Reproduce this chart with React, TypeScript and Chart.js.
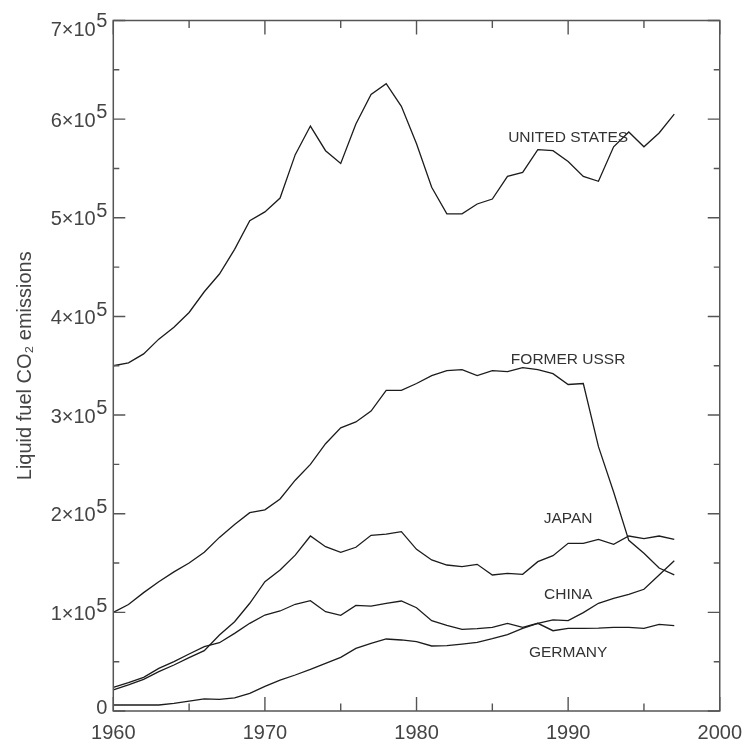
import React, { useEffect, useRef } from 'react';
import { Chart, registerables } from 'chart.js';

Chart.register(...registerables);

const years = [
  1960, 1961, 1962, 1963, 1964, 1965, 1966, 1967, 1968, 1969,
  1970, 1971, 1972, 1973, 1974, 1975, 1976, 1977, 1978, 1979,
  1980, 1981, 1982, 1983, 1984, 1985, 1986, 1987, 1988, 1989,
  1990, 1991, 1992, 1993, 1994, 1995, 1996, 1997,
];

const unitedStates = [
  350000, 353000, 362000, 377000, 389000, 404000, 425000, 443000, 468000, 497000,
  506000, 520000, 564000, 593000, 568000, 555000, 595000, 625000, 636000, 613000,
  575000, 531000, 504000, 504000, 514000, 519000, 542000, 546000, 569000, 568000,
  557000, 542000, 537000, 572000, 587000, 572000, 586000, 605000,
];

const formerUSSR = [
  100000, 108000, 120000, 131000, 141000, 150000, 161000, 176000, 189000, 201000,
  204000, 215000, 234000, 250000, 271000, 287000, 293000, 304000, 325000, 325000,
  332000, 340000, 345000, 346000, 340000, 345000, 344000, 348000, 346000, 342000,
  331000, 332000, 268000, 222000, 173000, 160000, 145000, 138000,
];

const japan = [
  21300, 26400, 32100, 39900, 46600, 54100, 61200, 77000, 90500, 109200,
  131100, 143000, 158000, 177400, 166600, 160900, 166000, 178100, 179400, 181800,
  163900, 153100, 148000, 146300, 148700, 137900, 139600, 138600, 151400, 157500,
  170000, 170000, 174000, 169000, 177400, 174700, 177400, 174100,
];

const germany = [
  24000, 28700, 34100, 43200, 50000, 57800, 65200, 69200, 78700, 88900,
  97300, 101400, 108200, 111800, 100700, 97000, 107100, 106400, 109200, 111500,
  104700, 91600, 86900, 82800, 83500, 84800, 88900, 84800, 88900, 81400,
  83800, 83800, 84100, 84800, 84800, 83800, 87900, 86500,
];

const china = [
  6100, 6100, 6100, 6100, 7800, 10100, 12200, 11800, 13200, 17900,
  25000, 31400, 36500, 42200, 48300, 54400, 63500, 68600, 73000, 72000,
  70300, 65900, 66200, 67900, 69600, 73300, 77500, 83800, 88900, 92300,
  91600, 99700, 109200, 114200, 118300, 123400, 137900, 152400,
];

const seriesLabels = ['UNITED STATES', 'FORMER USSR', 'JAPAN', 'CHINA', 'GERMANY'];
const seriesLabelYear = [1990, 1990, 1990, 1990, 1990];
const seriesLabelValue = [581000, 356000, 195000, 118000, 59000];

const xMajorTicks = [1960, 1970, 1980, 1990, 2000];
const xMinorTicks = [1965, 1975, 1985, 1995];
const yMajorTicks = [0, 100000, 200000, 300000, 400000, 500000, 600000, 700000];
const yMinorTicks = [50000, 150000, 250000, 350000, 450000, 550000, 650000];
const yTickBase = ['0', '1×10', '2×10', '3×10', '4×10', '5×10', '6×10', '7×10'];
const yTickExp = ['', '5', '5', '5', '5', '5', '5', '5'];

const yTitle = 'Liquid fuel CO₂ emissions';

const AXIS_COLOR = '#555555';
const TEXT_COLOR = '#444444';
const LINE_COLOR = '#1c1c1c';
const FONT = '"Liberation Sans", Arial, Helvetica, sans-serif';

const decorPlugin = {
  id: 'decor',
  afterDraw(chart: any) {
    const { ctx, chartArea: a, scales } = chart;
    const x = scales.x;
    const y = scales.y;
    ctx.save();
    ctx.strokeStyle = AXIS_COLOR;
    ctx.lineWidth = 1.5;
    ctx.strokeRect(a.left, a.top, a.right - a.left, a.bottom - a.top);

    ctx.lineWidth = 1.4;
    ctx.beginPath();
    const xt = (v: number, len: number) => {
      const px = x.getPixelForValue(v);
      ctx.moveTo(px, a.bottom);
      ctx.lineTo(px, a.bottom - len);
      ctx.moveTo(px, a.top);
      ctx.lineTo(px, a.top + len);
    };
    xMajorTicks.forEach((v) => xt(v, 14));
    xMinorTicks.forEach((v) => xt(v, 7.5));
    const yt = (v: number, len: number) => {
      const py = y.getPixelForValue(v);
      ctx.moveTo(a.left, py);
      ctx.lineTo(a.left + len, py);
      ctx.moveTo(a.right, py);
      ctx.lineTo(a.right - len, py);
    };
    yMajorTicks.forEach((v) => yt(v, 12));
    yMinorTicks.forEach((v) => yt(v, 6));
    ctx.stroke();

    // y tick labels with exponent
    ctx.fillStyle = TEXT_COLOR;
    ctx.font = `20px ${FONT}`;
    ctx.textBaseline = 'alphabetic';
    ctx.textAlign = 'right';
    const rightEdge = a.left - 6;
    yMajorTicks.forEach((v, i) => {
      let py = y.getPixelForValue(v);
      if (i === yMajorTicks.length - 1) py += 7.5;
      if (i === 0) py -= 5;
      const exp = yTickExp[i];
      let baseRight = rightEdge;
      if (exp) {
        const w = ctx.measureText(exp).width;
        ctx.fillText(exp, rightEdge, py - 8 + 7.2);
        baseRight = rightEdge - w - 0.5;
      }
      ctx.fillText(yTickBase[i], baseRight, py + 0.5 + 7.2);
    });

    // series labels
    ctx.font = `15.5px ${FONT}`;
    ctx.fillStyle = '#333333';
    ctx.textAlign = 'center';
    ctx.textBaseline = 'middle';
    seriesLabels.forEach((t, i) => {
      const px = x.getPixelForValue(seriesLabelYear[i]);
      const py = y.getPixelForValue(seriesLabelValue[i]);
      ctx.fillText(t, px, py);
    });
    ctx.restore();
  },
};

export default function App() {
  const ref = useRef<HTMLCanvasElement | null>(null);
  useEffect(() => {
    if (!ref.current) return;
    const mk = (data: number[]) => ({
      data: years.map((yr, i) => ({ x: yr, y: data[i] })),
      borderColor: LINE_COLOR,
      borderWidth: 1.3,
      pointRadius: 0,
      tension: 0,
      fill: false,
    });
    const chart = new Chart(ref.current, {
      type: 'line',
      data: {
        datasets: [
          { label: 'United States', ...mk(unitedStates) },
          { label: 'Former USSR', ...mk(formerUSSR) },
          { label: 'Japan', ...mk(japan) },
          { label: 'China', ...mk(china) },
          { label: 'Germany', ...mk(germany) },
        ],
      },
      options: {
        animation: false,
        responsive: false,
        devicePixelRatio: 1,
        layout: { padding: { top: 20.5, right: 26.3, bottom: 0, left: 0 } },
        plugins: {
          legend: { display: false },
          tooltip: { enabled: false },
        },
        scales: {
          x: {
            type: 'linear',
            min: 1960,
            max: 2000,
            grid: { display: false, drawTicks: false },
            border: { display: false },
            ticks: {
              stepSize: 10,
              padding: 10,
              color: TEXT_COLOR,
              font: { family: FONT, size: 20 },
              maxRotation: 0,
              callback: (v: any) => String(v),
            },
            afterFit: (s: any) => { s.height = 36; },
          },
          y: {
            type: 'linear',
            min: 0,
            max: 700000,
            grid: { display: false, drawTicks: false },
            border: { display: false },
            ticks: { display: false, stepSize: 100000 },
            title: {
              display: true,
              text: yTitle,
              color: TEXT_COLOR,
              font: { family: FONT, size: 20 },
              padding: { top: 13, bottom: 0 },
            },
            afterFit: (s: any) => { s.width = 113.3; },
          },
        },
      },
      plugins: [decorPlugin],
    });
    return () => chart.destroy();
  }, []);
  return (
    <div style={{ position: 'fixed', left: 0, top: 0, width: 752, height: 747, background: '#fff' }}>
      <canvas ref={ref} width={752} height={747} />
    </div>
  );
}
